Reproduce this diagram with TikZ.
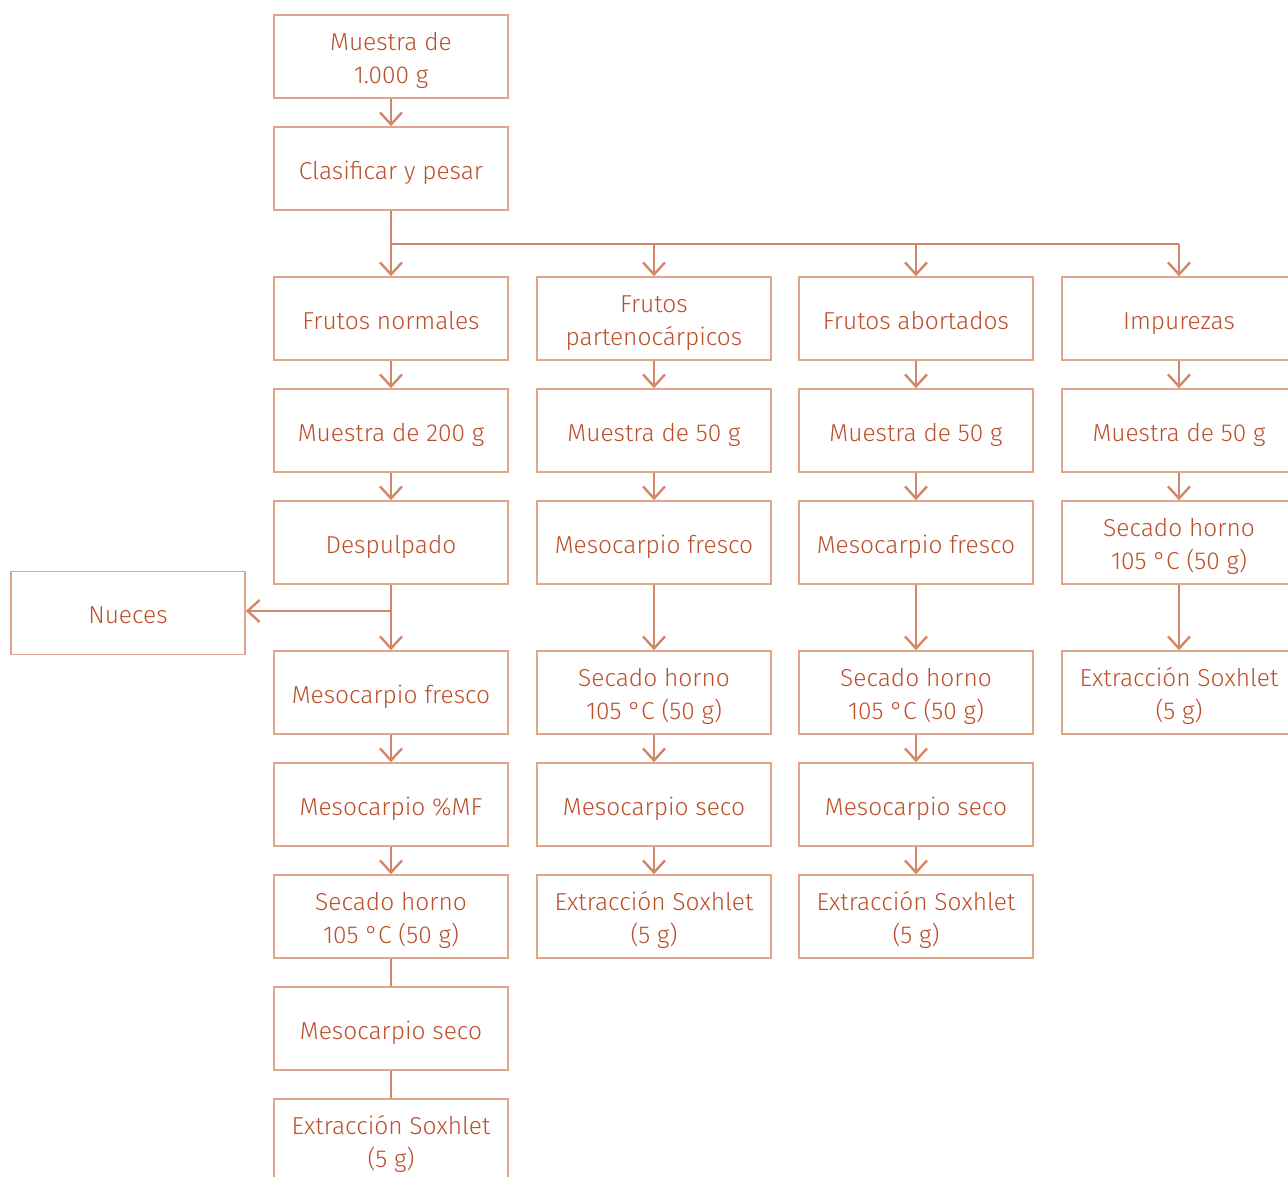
\documentclass[tikz,border=0pt]{standalone}
\usepackage{fontspec}
\setmainfont{Fira Sans}[UprightFont={* Light}]
\usetikzlibrary{arrows.meta}
\definecolor{boxline}{HTML}{E0A68C}
\definecolor{arrline}{HTML}{D4866A}
\definecolor{txt}{HTML}{BC4F2A}
\begin{document}
\begin{tikzpicture}[x=1pt,y=-1pt,
  caja/.style={draw=boxline, line width=1.6pt, minimum width=234pt, minimum height=83pt, inner sep=0pt, align=center, text=txt, font=\fontsize{24.5}{32.5}\selectfont, text height=21.6pt, text depth=0pt},
  dos/.style={text height=53.6pt, text depth=0pt},
  flecha/.style={draw=arrline, line width=2.4pt, -{Straight Barb[length=12pt,width=22pt,line width=2.4pt]}},
  linea/.style={draw=arrline, line width=2.4pt}]
\clip (0,0) rectangle (1288,1177);
\node[caja, dos] (a0) at (391,56.5){Muestra de\\1.000 g};
\node[caja] (a1) at (391,168.5){Clasificar y pesar};
\node[caja] (a2) at (391,318.5){Frutos normales};
\node[caja] (a3) at (391,430.5){Muestra de 200 g};
\node[caja] (a4) at (391,542.5){Despulpado};
\node[caja] (a5) at (391,692.5){Mesocarpio fresco};
\node[caja] (a6) at (391,804.5){Mesocarpio \%MF};
\node[caja, dos] (a7) at (391,916.5){Secado horno\\105 °C (50 g)};
\node[caja] (a8) at (391,1028.5){Mesocarpio seco};
\node[caja, dos] (a9) at (391,1140.5){Extracción Soxhlet\\(5 g)};
\node[caja] (nueces) at (128,613){Nueces};
\node[caja, dos] (b2) at (654,318.5){Frutos\\partenocárpicos};
\node[caja] (b3) at (654,430.5){Muestra de 50 g};
\node[caja] (b4) at (654,542.5){Mesocarpio fresco};
\node[caja, dos] (b5) at (654,692.5){Secado horno\\105 °C (50 g)};
\node[caja] (b6) at (654,804.5){Mesocarpio seco};
\node[caja, dos] (b7) at (654,916.5){Extracción Soxhlet\\(5 g)};
\node[caja] (c2) at (916,318.5){Frutos abortados};
\node[caja] (c3) at (916,430.5){Muestra de 50 g};
\node[caja] (c4) at (916,542.5){Mesocarpio fresco};
\node[caja, dos] (c5) at (916,692.5){Secado horno\\105 °C (50 g)};
\node[caja] (c6) at (916,804.5){Mesocarpio seco};
\node[caja, dos] (c7) at (916,916.5){Extracción Soxhlet\\(5 g)};
\node[caja] (d2) at (1179,318.5){Impurezas};
\node[caja] (d3) at (1179,430.5){Muestra de 50 g};
\node[caja, dos] (d4) at (1179,542.5){Secado horno\\105 °C (50 g)};
\node[caja, dos] (d5) at (1179,692.5){Extracción Soxhlet\\(5 g)};
% ramal
\coordinate (r1) at (391,244);
\coordinate (r2) at (654,244);
\coordinate (r3) at (916,244);
\coordinate (r4) at (1179,244);
\coordinate (cruce) at (391,611);
\draw[flecha](a0) -- (a1);
\draw[flecha](a1) -- (a2);
\draw[linea](r1) -- (r4);
\draw[flecha](r2) -- (b2);
\draw[flecha](r3) -- (c2);
\draw[flecha](r4) -- (d2);
\draw[flecha](a2) -- (a3);
\draw[flecha](a3) -- (a4);
\draw[flecha](a4) -- (a5);
\draw[flecha](cruce) -- (cruce -| nueces.east);
\draw[flecha](a5) -- (a6);
\draw[flecha](a6) -- (a7);
\draw[linea](a7) -- (a8);
\draw[linea](a8) -- (a9);
\draw[flecha](b2) -- (b3);
\draw[flecha](b3) -- (b4);
\draw[flecha](b4) -- (b5);
\draw[flecha](b5) -- (b6);
\draw[flecha](b6) -- (b7);
\draw[flecha](c2) -- (c3);
\draw[flecha](c3) -- (c4);
\draw[flecha](c4) -- (c5);
\draw[flecha](c5) -- (c6);
\draw[flecha](c6) -- (c7);
\draw[flecha](d2) -- (d3);
\draw[flecha](d3) -- (d4);
\draw[flecha](d4) -- (d5);
\end{tikzpicture}
\end{document}
